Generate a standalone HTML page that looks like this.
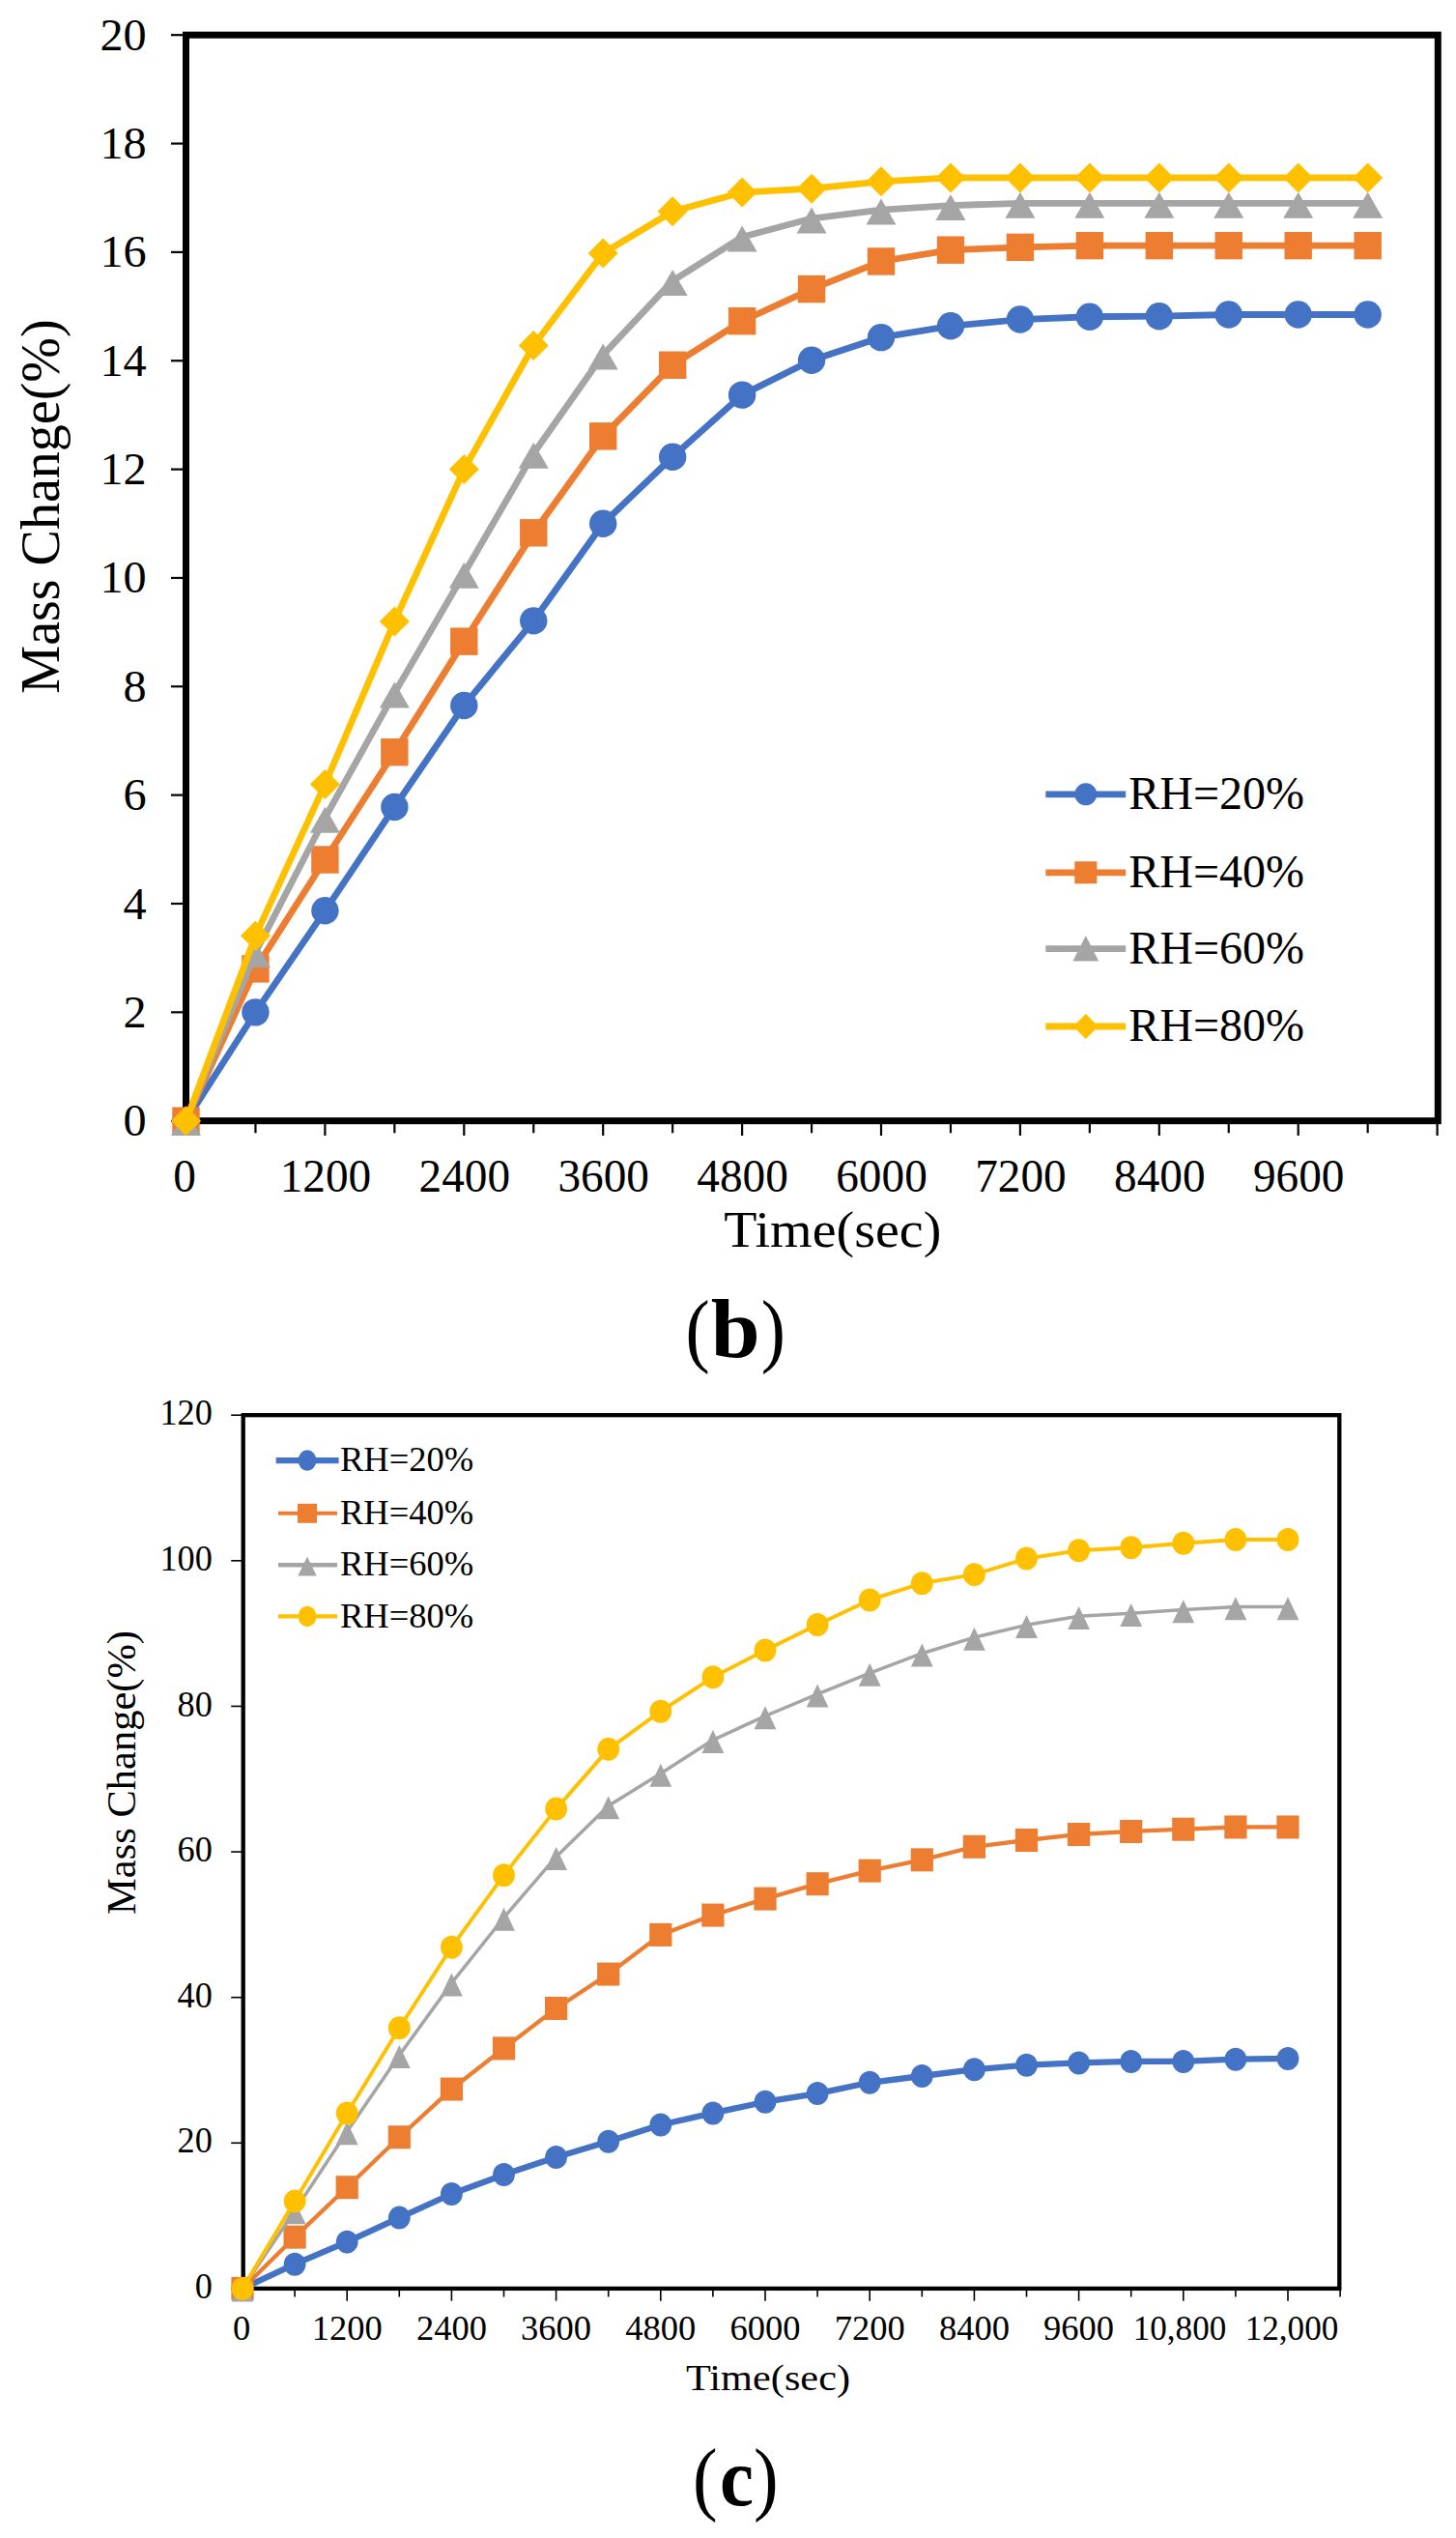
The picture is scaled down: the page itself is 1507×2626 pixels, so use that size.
<!DOCTYPE html>
<html><head><meta charset="utf-8"><title>Mass change vs time</title>
<style>html,body{margin:0;padding:0;background:#fff}svg{display:block}</style>
</head><body>
<svg width="1507" height="2626" viewBox="0 0 1507 2626">
<rect width="1507" height="2626" fill="#fff"/>
<g font-family="'Liberation Serif', serif" fill="#000">
<line x1="177.00" x2="192.50" y1="1159.70" y2="1159.70" stroke="#000" stroke-width="2.2"/>
<text transform="translate(151.70 1175.20) scale(1.015 1)" font-size="47.5" text-anchor="end" >0</text>
<line x1="177.00" x2="192.50" y1="1047.35" y2="1047.35" stroke="#000" stroke-width="2.2"/>
<text transform="translate(151.70 1062.85) scale(1.015 1)" font-size="47.5" text-anchor="end" >2</text>
<line x1="177.00" x2="192.50" y1="935.00" y2="935.00" stroke="#000" stroke-width="2.2"/>
<text transform="translate(151.70 950.50) scale(1.015 1)" font-size="47.5" text-anchor="end" >4</text>
<line x1="177.00" x2="192.50" y1="822.65" y2="822.65" stroke="#000" stroke-width="2.2"/>
<text transform="translate(151.70 838.15) scale(1.015 1)" font-size="47.5" text-anchor="end" >6</text>
<line x1="177.00" x2="192.50" y1="710.30" y2="710.30" stroke="#000" stroke-width="2.2"/>
<text transform="translate(151.70 725.80) scale(1.015 1)" font-size="47.5" text-anchor="end" >8</text>
<line x1="177.00" x2="192.50" y1="597.95" y2="597.95" stroke="#000" stroke-width="2.2"/>
<text transform="translate(151.70 613.45) scale(1.015 1)" font-size="47.5" text-anchor="end" >10</text>
<line x1="177.00" x2="192.50" y1="485.60" y2="485.60" stroke="#000" stroke-width="2.2"/>
<text transform="translate(151.70 501.10) scale(1.015 1)" font-size="47.5" text-anchor="end" >12</text>
<line x1="177.00" x2="192.50" y1="373.25" y2="373.25" stroke="#000" stroke-width="2.2"/>
<text transform="translate(151.70 388.75) scale(1.015 1)" font-size="47.5" text-anchor="end" >14</text>
<line x1="177.00" x2="192.50" y1="260.90" y2="260.90" stroke="#000" stroke-width="2.2"/>
<text transform="translate(151.70 276.40) scale(1.015 1)" font-size="47.5" text-anchor="end" >16</text>
<line x1="177.00" x2="192.50" y1="148.55" y2="148.55" stroke="#000" stroke-width="2.2"/>
<text transform="translate(151.70 164.05) scale(1.015 1)" font-size="47.5" text-anchor="end" >18</text>
<line x1="177.00" x2="192.50" y1="36.20" y2="36.20" stroke="#000" stroke-width="2.2"/>
<text transform="translate(151.70 51.70) scale(1.015 1)" font-size="47.5" text-anchor="end" >20</text>
<line x1="192.50" x2="192.50" y1="1159.70" y2="1175.00" stroke="#000" stroke-width="2.2"/>
<text transform="translate(191.00 1232.50) scale(0.995 1)" font-size="47.5" text-anchor="middle" >0</text>
<line x1="264.45" x2="264.45" y1="1159.70" y2="1172.30" stroke="#000" stroke-width="2.2"/>
<line x1="336.40" x2="336.40" y1="1159.70" y2="1175.00" stroke="#000" stroke-width="2.2"/>
<text transform="translate(336.90 1232.50) scale(0.995 1)" font-size="47.5" text-anchor="middle" >1200</text>
<line x1="408.35" x2="408.35" y1="1159.70" y2="1172.30" stroke="#000" stroke-width="2.2"/>
<line x1="480.30" x2="480.30" y1="1159.70" y2="1175.00" stroke="#000" stroke-width="2.2"/>
<text transform="translate(480.80 1232.50) scale(0.995 1)" font-size="47.5" text-anchor="middle" >2400</text>
<line x1="552.25" x2="552.25" y1="1159.70" y2="1172.30" stroke="#000" stroke-width="2.2"/>
<line x1="624.20" x2="624.20" y1="1159.70" y2="1175.00" stroke="#000" stroke-width="2.2"/>
<text transform="translate(624.70 1232.50) scale(0.995 1)" font-size="47.5" text-anchor="middle" >3600</text>
<line x1="696.15" x2="696.15" y1="1159.70" y2="1172.30" stroke="#000" stroke-width="2.2"/>
<line x1="768.10" x2="768.10" y1="1159.70" y2="1175.00" stroke="#000" stroke-width="2.2"/>
<text transform="translate(768.60 1232.50) scale(0.995 1)" font-size="47.5" text-anchor="middle" >4800</text>
<line x1="840.05" x2="840.05" y1="1159.70" y2="1172.30" stroke="#000" stroke-width="2.2"/>
<line x1="912.00" x2="912.00" y1="1159.70" y2="1175.00" stroke="#000" stroke-width="2.2"/>
<text transform="translate(912.50 1232.50) scale(0.995 1)" font-size="47.5" text-anchor="middle" >6000</text>
<line x1="983.95" x2="983.95" y1="1159.70" y2="1172.30" stroke="#000" stroke-width="2.2"/>
<line x1="1055.90" x2="1055.90" y1="1159.70" y2="1175.00" stroke="#000" stroke-width="2.2"/>
<text transform="translate(1056.40 1232.50) scale(0.995 1)" font-size="47.5" text-anchor="middle" >7200</text>
<line x1="1127.85" x2="1127.85" y1="1159.70" y2="1172.30" stroke="#000" stroke-width="2.2"/>
<line x1="1199.80" x2="1199.80" y1="1159.70" y2="1175.00" stroke="#000" stroke-width="2.2"/>
<text transform="translate(1200.30 1232.50) scale(0.995 1)" font-size="47.5" text-anchor="middle" >8400</text>
<line x1="1271.75" x2="1271.75" y1="1159.70" y2="1172.30" stroke="#000" stroke-width="2.2"/>
<line x1="1343.70" x2="1343.70" y1="1159.70" y2="1175.00" stroke="#000" stroke-width="2.2"/>
<text transform="translate(1344.20 1232.50) scale(0.995 1)" font-size="47.5" text-anchor="middle" >9600</text>
<line x1="1415.65" x2="1415.65" y1="1159.70" y2="1172.30" stroke="#000" stroke-width="2.2"/>
<line x1="1487.60" x2="1487.60" y1="1159.70" y2="1175.00" stroke="#000" stroke-width="2.2"/>
<rect x="192.50" y="36.20" width="1295.80" height="1123.50" fill="none" stroke="#000" stroke-width="7.0"/>
<polyline points="192.50,1159.70 264.45,1047.35 336.40,942.30 408.35,835.01 480.30,729.96 552.25,642.33 624.20,541.78 696.15,472.68 768.10,408.64 840.05,372.69 912.00,349.09 983.95,337.30 1055.90,330.56 1127.85,327.75 1199.80,327.19 1271.75,325.50 1343.70,325.50 1415.65,325.50" fill="none" stroke="#4472C4" stroke-width="6.8" stroke-linejoin="round" stroke-linecap="round"/>
<ellipse cx="192.50" cy="1159.70" rx="14.20" ry="14.20" fill="#4472C4"/>
<ellipse cx="264.45" cy="1047.35" rx="14.20" ry="14.20" fill="#4472C4"/>
<ellipse cx="336.40" cy="942.30" rx="14.20" ry="14.20" fill="#4472C4"/>
<ellipse cx="408.35" cy="835.01" rx="14.20" ry="14.20" fill="#4472C4"/>
<ellipse cx="480.30" cy="729.96" rx="14.20" ry="14.20" fill="#4472C4"/>
<ellipse cx="552.25" cy="642.33" rx="14.20" ry="14.20" fill="#4472C4"/>
<ellipse cx="624.20" cy="541.78" rx="14.20" ry="14.20" fill="#4472C4"/>
<ellipse cx="696.15" cy="472.68" rx="14.20" ry="14.20" fill="#4472C4"/>
<ellipse cx="768.10" cy="408.64" rx="14.20" ry="14.20" fill="#4472C4"/>
<ellipse cx="840.05" cy="372.69" rx="14.20" ry="14.20" fill="#4472C4"/>
<ellipse cx="912.00" cy="349.09" rx="14.20" ry="14.20" fill="#4472C4"/>
<ellipse cx="983.95" cy="337.30" rx="14.20" ry="14.20" fill="#4472C4"/>
<ellipse cx="1055.90" cy="330.56" rx="14.20" ry="14.20" fill="#4472C4"/>
<ellipse cx="1127.85" cy="327.75" rx="14.20" ry="14.20" fill="#4472C4"/>
<ellipse cx="1199.80" cy="327.19" rx="14.20" ry="14.20" fill="#4472C4"/>
<ellipse cx="1271.75" cy="325.50" rx="14.20" ry="14.20" fill="#4472C4"/>
<ellipse cx="1343.70" cy="325.50" rx="14.20" ry="14.20" fill="#4472C4"/>
<ellipse cx="1415.65" cy="325.50" rx="14.20" ry="14.20" fill="#4472C4"/>
<polyline points="192.50,1159.70 264.45,1002.41 336.40,889.50 408.35,778.27 480.30,663.67 552.25,551.32 624.20,451.33 696.15,377.74 768.10,332.24 840.05,299.10 912.00,270.45 983.95,258.65 1055.90,255.84 1127.85,254.16 1199.80,254.16 1271.75,254.16 1343.70,254.16 1415.65,254.16" fill="none" stroke="#ED7D31" stroke-width="6.8" stroke-linejoin="round" stroke-linecap="round"/>
<rect x="178.30" y="1145.50" width="28.40" height="28.40" fill="#ED7D31"/>
<rect x="250.25" y="988.21" width="28.40" height="28.40" fill="#ED7D31"/>
<rect x="322.20" y="875.30" width="28.40" height="28.40" fill="#ED7D31"/>
<rect x="394.15" y="764.07" width="28.40" height="28.40" fill="#ED7D31"/>
<rect x="466.10" y="649.47" width="28.40" height="28.40" fill="#ED7D31"/>
<rect x="538.05" y="537.12" width="28.40" height="28.40" fill="#ED7D31"/>
<rect x="610.00" y="437.13" width="28.40" height="28.40" fill="#ED7D31"/>
<rect x="681.95" y="363.54" width="28.40" height="28.40" fill="#ED7D31"/>
<rect x="753.90" y="318.04" width="28.40" height="28.40" fill="#ED7D31"/>
<rect x="825.85" y="284.90" width="28.40" height="28.40" fill="#ED7D31"/>
<rect x="897.80" y="256.25" width="28.40" height="28.40" fill="#ED7D31"/>
<rect x="969.75" y="244.45" width="28.40" height="28.40" fill="#ED7D31"/>
<rect x="1041.70" y="241.64" width="28.40" height="28.40" fill="#ED7D31"/>
<rect x="1113.65" y="239.96" width="28.40" height="28.40" fill="#ED7D31"/>
<rect x="1185.60" y="239.96" width="28.40" height="28.40" fill="#ED7D31"/>
<rect x="1257.55" y="239.96" width="28.40" height="28.40" fill="#ED7D31"/>
<rect x="1329.50" y="239.96" width="28.40" height="28.40" fill="#ED7D31"/>
<rect x="1401.45" y="239.96" width="28.40" height="28.40" fill="#ED7D31"/>
<polyline points="192.50,1159.70 264.45,985.56 336.40,846.24 408.35,717.04 480.30,593.46 552.25,469.31 624.20,367.07 696.15,290.67 768.10,245.17 840.05,226.07 912.00,217.08 983.95,212.59 1055.90,210.34 1127.85,210.34 1199.80,210.34 1271.75,210.34 1343.70,210.34 1415.65,210.34" fill="none" stroke="#A5A5A5" stroke-width="6.8" stroke-linejoin="round" stroke-linecap="round"/>
<polygon points="192.50,1148.09 208.00,1175.09 177.00,1175.09" fill="#A5A5A5"/>
<polygon points="264.45,973.95 279.95,1000.95 248.95,1000.95" fill="#A5A5A5"/>
<polygon points="336.40,834.63 351.90,861.63 320.90,861.63" fill="#A5A5A5"/>
<polygon points="408.35,705.43 423.85,732.43 392.85,732.43" fill="#A5A5A5"/>
<polygon points="480.30,581.85 495.80,608.85 464.80,608.85" fill="#A5A5A5"/>
<polygon points="552.25,457.70 567.75,484.70 536.75,484.70" fill="#A5A5A5"/>
<polygon points="624.20,355.46 639.70,382.46 608.70,382.46" fill="#A5A5A5"/>
<polygon points="696.15,279.06 711.65,306.06 680.65,306.06" fill="#A5A5A5"/>
<polygon points="768.10,233.56 783.60,260.56 752.60,260.56" fill="#A5A5A5"/>
<polygon points="840.05,214.46 855.55,241.46 824.55,241.46" fill="#A5A5A5"/>
<polygon points="912.00,205.47 927.50,232.47 896.50,232.47" fill="#A5A5A5"/>
<polygon points="983.95,200.98 999.45,227.98 968.45,227.98" fill="#A5A5A5"/>
<polygon points="1055.90,198.73 1071.40,225.73 1040.40,225.73" fill="#A5A5A5"/>
<polygon points="1127.85,198.73 1143.35,225.73 1112.35,225.73" fill="#A5A5A5"/>
<polygon points="1199.80,198.73 1215.30,225.73 1184.30,225.73" fill="#A5A5A5"/>
<polygon points="1271.75,198.73 1287.25,225.73 1256.25,225.73" fill="#A5A5A5"/>
<polygon points="1343.70,198.73 1359.20,225.73 1328.20,225.73" fill="#A5A5A5"/>
<polygon points="1415.65,198.73 1431.15,225.73 1400.15,225.73" fill="#A5A5A5"/>
<polyline points="192.50,1159.70 264.45,968.14 336.40,811.42 408.35,642.89 480.30,485.60 552.25,357.52 624.20,262.02 696.15,218.77 768.10,199.11 840.05,195.18 912.00,187.87 983.95,183.94 1055.90,183.94 1127.85,183.94 1199.80,183.94 1271.75,183.94 1343.70,183.94 1415.65,183.94" fill="none" stroke="#FFC000" stroke-width="6.8" stroke-linejoin="round" stroke-linecap="round"/>
<polygon points="192.50,1144.20 208.00,1159.70 192.50,1175.20 177.00,1159.70" fill="#FFC000"/>
<polygon points="264.45,952.64 279.95,968.14 264.45,983.64 248.95,968.14" fill="#FFC000"/>
<polygon points="336.40,795.92 351.90,811.42 336.40,826.92 320.90,811.42" fill="#FFC000"/>
<polygon points="408.35,627.39 423.85,642.89 408.35,658.39 392.85,642.89" fill="#FFC000"/>
<polygon points="480.30,470.10 495.80,485.60 480.30,501.10 464.80,485.60" fill="#FFC000"/>
<polygon points="552.25,342.02 567.75,357.52 552.25,373.02 536.75,357.52" fill="#FFC000"/>
<polygon points="624.20,246.52 639.70,262.02 624.20,277.52 608.70,262.02" fill="#FFC000"/>
<polygon points="696.15,203.27 711.65,218.77 696.15,234.27 680.65,218.77" fill="#FFC000"/>
<polygon points="768.10,183.61 783.60,199.11 768.10,214.61 752.60,199.11" fill="#FFC000"/>
<polygon points="840.05,179.68 855.55,195.18 840.05,210.68 824.55,195.18" fill="#FFC000"/>
<polygon points="912.00,172.37 927.50,187.87 912.00,203.37 896.50,187.87" fill="#FFC000"/>
<polygon points="983.95,168.44 999.45,183.94 983.95,199.44 968.45,183.94" fill="#FFC000"/>
<polygon points="1055.90,168.44 1071.40,183.94 1055.90,199.44 1040.40,183.94" fill="#FFC000"/>
<polygon points="1127.85,168.44 1143.35,183.94 1127.85,199.44 1112.35,183.94" fill="#FFC000"/>
<polygon points="1199.80,168.44 1215.30,183.94 1199.80,199.44 1184.30,183.94" fill="#FFC000"/>
<polygon points="1271.75,168.44 1287.25,183.94 1271.75,199.44 1256.25,183.94" fill="#FFC000"/>
<polygon points="1343.70,168.44 1359.20,183.94 1343.70,199.44 1328.20,183.94" fill="#FFC000"/>
<polygon points="1415.65,168.44 1431.15,183.94 1415.65,199.44 1400.15,183.94" fill="#FFC000"/>
<line x1="1082.3" x2="1165.2" y1="821.8" y2="821.8" stroke="#4472C4" stroke-width="6.8"/>
<ellipse cx="1123.80" cy="821.80" rx="11.50" ry="11.50" fill="#4472C4"/>
<text transform="translate(1168.20 837.10)" font-size="48" text-anchor="start" >RH=20%</text>
<line x1="1082.3" x2="1165.2" y1="902.8" y2="902.8" stroke="#ED7D31" stroke-width="6.8"/>
<rect x="1112.30" y="891.30" width="23.00" height="23.00" fill="#ED7D31"/>
<text transform="translate(1168.20 918.10)" font-size="48" text-anchor="start" >RH=40%</text>
<line x1="1082.3" x2="1165.2" y1="981.6" y2="981.6" stroke="#A5A5A5" stroke-width="6.8"/>
<polygon points="1123.8,968.10 1137.20,994.50 1110.40,994.50" fill="#A5A5A5"/>
<text transform="translate(1168.20 996.90)" font-size="48" text-anchor="start" >RH=60%</text>
<line x1="1082.3" x2="1165.2" y1="1062.0" y2="1062.0" stroke="#FFC000" stroke-width="6.8"/>
<polygon points="1123.80,1049.00 1136.80,1062.00 1123.80,1075.00 1110.80,1062.00" fill="#FFC000"/>
<text transform="translate(1168.20 1077.30)" font-size="48" text-anchor="start" >RH=80%</text>
<text transform="translate(861.80 1289.70) scale(1.077 1)" font-size="52" text-anchor="middle" >Time(sec)</text>
<text transform="translate(61.30 524.00) rotate(-90)" font-size="56" text-anchor="middle" >Mass Change(%)</text>
<text transform="translate(722.20 1404.30) scale(0.9 1)" font-size="84" text-anchor="middle" >(</text>
<text transform="translate(761.20 1403.75) scale(1.065 1)" font-size="86" text-anchor="middle" font-weight="bold">b</text>
<text transform="translate(800.30 1404.30) scale(0.9 1)" font-size="84" text-anchor="middle" >)</text>
</g>
<g font-family="'Liberation Serif', serif" fill="#000">
<line x1="239.20" x2="251.70" y1="2367.90" y2="2367.90" stroke="#000" stroke-width="1.6"/>
<text transform="translate(219.80 2378.10) scale(0.95 1)" font-size="38.2" text-anchor="end" >0</text>
<line x1="239.20" x2="251.70" y1="2217.28" y2="2217.28" stroke="#000" stroke-width="1.6"/>
<text transform="translate(219.80 2227.48) scale(0.95 1)" font-size="38.2" text-anchor="end" >20</text>
<line x1="239.20" x2="251.70" y1="2066.67" y2="2066.67" stroke="#000" stroke-width="1.6"/>
<text transform="translate(219.80 2076.87) scale(0.95 1)" font-size="38.2" text-anchor="end" >40</text>
<line x1="239.20" x2="251.70" y1="1916.05" y2="1916.05" stroke="#000" stroke-width="1.6"/>
<text transform="translate(219.80 1926.25) scale(0.95 1)" font-size="38.2" text-anchor="end" >60</text>
<line x1="239.20" x2="251.70" y1="1765.43" y2="1765.43" stroke="#000" stroke-width="1.6"/>
<text transform="translate(219.80 1775.63) scale(0.95 1)" font-size="38.2" text-anchor="end" >80</text>
<line x1="239.20" x2="251.70" y1="1614.82" y2="1614.82" stroke="#000" stroke-width="1.6"/>
<text transform="translate(219.80 1625.02) scale(0.95 1)" font-size="38.2" text-anchor="end" >100</text>
<line x1="239.20" x2="251.70" y1="1464.20" y2="1464.20" stroke="#000" stroke-width="1.6"/>
<text transform="translate(219.80 1474.40) scale(0.95 1)" font-size="38.2" text-anchor="end" >120</text>
<line x1="251.00" x2="251.00" y1="2367.90" y2="2380.70" stroke="#000" stroke-width="1.6"/>
<text transform="translate(250.20 2421.40)" font-size="36.5" text-anchor="middle" >0</text>
<line x1="305.10" x2="305.10" y1="2367.90" y2="2376.50" stroke="#000" stroke-width="1.6"/>
<line x1="359.20" x2="359.20" y1="2367.90" y2="2380.70" stroke="#000" stroke-width="1.6"/>
<text transform="translate(359.20 2421.40)" font-size="36.5" text-anchor="middle" >1200</text>
<line x1="413.30" x2="413.30" y1="2367.90" y2="2376.50" stroke="#000" stroke-width="1.6"/>
<line x1="467.40" x2="467.40" y1="2367.90" y2="2380.70" stroke="#000" stroke-width="1.6"/>
<text transform="translate(467.40 2421.40)" font-size="36.5" text-anchor="middle" >2400</text>
<line x1="521.50" x2="521.50" y1="2367.90" y2="2376.50" stroke="#000" stroke-width="1.6"/>
<line x1="575.60" x2="575.60" y1="2367.90" y2="2380.70" stroke="#000" stroke-width="1.6"/>
<text transform="translate(575.60 2421.40)" font-size="36.5" text-anchor="middle" >3600</text>
<line x1="629.70" x2="629.70" y1="2367.90" y2="2376.50" stroke="#000" stroke-width="1.6"/>
<line x1="683.80" x2="683.80" y1="2367.90" y2="2380.70" stroke="#000" stroke-width="1.6"/>
<text transform="translate(683.80 2421.40)" font-size="36.5" text-anchor="middle" >4800</text>
<line x1="737.90" x2="737.90" y1="2367.90" y2="2376.50" stroke="#000" stroke-width="1.6"/>
<line x1="792.00" x2="792.00" y1="2367.90" y2="2380.70" stroke="#000" stroke-width="1.6"/>
<text transform="translate(792.00 2421.40)" font-size="36.5" text-anchor="middle" >6000</text>
<line x1="846.10" x2="846.10" y1="2367.90" y2="2376.50" stroke="#000" stroke-width="1.6"/>
<line x1="900.20" x2="900.20" y1="2367.90" y2="2380.70" stroke="#000" stroke-width="1.6"/>
<text transform="translate(900.20 2421.40)" font-size="36.5" text-anchor="middle" >7200</text>
<line x1="954.30" x2="954.30" y1="2367.90" y2="2376.50" stroke="#000" stroke-width="1.6"/>
<line x1="1008.40" x2="1008.40" y1="2367.90" y2="2380.70" stroke="#000" stroke-width="1.6"/>
<text transform="translate(1008.40 2421.40)" font-size="36.5" text-anchor="middle" >8400</text>
<line x1="1062.50" x2="1062.50" y1="2367.90" y2="2376.50" stroke="#000" stroke-width="1.6"/>
<line x1="1116.60" x2="1116.60" y1="2367.90" y2="2380.70" stroke="#000" stroke-width="1.6"/>
<text transform="translate(1116.60 2421.40)" font-size="36.5" text-anchor="middle" >9600</text>
<line x1="1170.70" x2="1170.70" y1="2367.90" y2="2376.50" stroke="#000" stroke-width="1.6"/>
<line x1="1224.80" x2="1224.80" y1="2367.90" y2="2380.70" stroke="#000" stroke-width="1.6"/>
<text transform="translate(1221.00 2421.40) scale(0.975 1)" font-size="36" text-anchor="middle" >10,800</text>
<line x1="1278.90" x2="1278.90" y1="2367.90" y2="2376.50" stroke="#000" stroke-width="1.6"/>
<line x1="1333.00" x2="1333.00" y1="2367.90" y2="2380.70" stroke="#000" stroke-width="1.6"/>
<text transform="translate(1337.00 2421.40) scale(0.975 1)" font-size="36" text-anchor="middle" >12,000</text>
<line x1="1387.10" x2="1387.10" y1="2367.90" y2="2376.50" stroke="#000" stroke-width="1.6"/>
<rect x="251.70" y="1464.20" width="1134.60" height="903.70" fill="none" stroke="#000" stroke-width="4.3"/>
<polyline points="251.00,2367.90 305.10,2342.67 359.20,2319.63 413.30,2294.62 467.40,2270.00 521.50,2250.04 575.60,2231.97 629.70,2215.78 683.80,2198.46 737.90,2186.41 792.00,2174.73 846.10,2166.07 900.20,2154.78 954.30,2148.00 1008.40,2141.22 1062.50,2136.70 1116.60,2134.44 1170.70,2132.94 1224.80,2132.94 1278.90,2130.68 1333.00,2129.93" fill="none" stroke="#4472C4" stroke-width="6.3" stroke-linejoin="round" stroke-linecap="round"/>
<ellipse cx="251.00" cy="2367.90" rx="11.40" ry="12.00" fill="#4472C4"/>
<ellipse cx="305.10" cy="2342.67" rx="11.40" ry="12.00" fill="#4472C4"/>
<ellipse cx="359.20" cy="2319.63" rx="11.40" ry="12.00" fill="#4472C4"/>
<ellipse cx="413.30" cy="2294.62" rx="11.40" ry="12.00" fill="#4472C4"/>
<ellipse cx="467.40" cy="2270.00" rx="11.40" ry="12.00" fill="#4472C4"/>
<ellipse cx="521.50" cy="2250.04" rx="11.40" ry="12.00" fill="#4472C4"/>
<ellipse cx="575.60" cy="2231.97" rx="11.40" ry="12.00" fill="#4472C4"/>
<ellipse cx="629.70" cy="2215.78" rx="11.40" ry="12.00" fill="#4472C4"/>
<ellipse cx="683.80" cy="2198.46" rx="11.40" ry="12.00" fill="#4472C4"/>
<ellipse cx="737.90" cy="2186.41" rx="11.40" ry="12.00" fill="#4472C4"/>
<ellipse cx="792.00" cy="2174.73" rx="11.40" ry="12.00" fill="#4472C4"/>
<ellipse cx="846.10" cy="2166.07" rx="11.40" ry="12.00" fill="#4472C4"/>
<ellipse cx="900.20" cy="2154.78" rx="11.40" ry="12.00" fill="#4472C4"/>
<ellipse cx="954.30" cy="2148.00" rx="11.40" ry="12.00" fill="#4472C4"/>
<ellipse cx="1008.40" cy="2141.22" rx="11.40" ry="12.00" fill="#4472C4"/>
<ellipse cx="1062.50" cy="2136.70" rx="11.40" ry="12.00" fill="#4472C4"/>
<ellipse cx="1116.60" cy="2134.44" rx="11.40" ry="12.00" fill="#4472C4"/>
<ellipse cx="1170.70" cy="2132.94" rx="11.40" ry="12.00" fill="#4472C4"/>
<ellipse cx="1224.80" cy="2132.94" rx="11.40" ry="12.00" fill="#4472C4"/>
<ellipse cx="1278.90" cy="2130.68" rx="11.40" ry="12.00" fill="#4472C4"/>
<ellipse cx="1333.00" cy="2129.93" rx="11.40" ry="12.00" fill="#4472C4"/>
<polyline points="251.00,2367.90 305.10,2314.66 359.20,2263.22 413.30,2211.26 467.40,2161.56 521.50,2119.38 575.60,2077.96 629.70,2042.57 683.80,2001.90 737.90,1981.57 792.00,1964.62 846.10,1949.19 900.20,1935.63 954.30,1924.33 1008.40,1910.78 1062.50,1904.00 1116.60,1897.98 1170.70,1894.96 1224.80,1892.70 1278.90,1890.45 1333.00,1890.45" fill="none" stroke="#ED7D31" stroke-width="4.3" stroke-linejoin="round" stroke-linecap="round"/>
<rect x="239.40" y="2355.90" width="23.20" height="24.00" fill="#ED7D31"/>
<rect x="293.50" y="2302.66" width="23.20" height="24.00" fill="#ED7D31"/>
<rect x="347.60" y="2251.22" width="23.20" height="24.00" fill="#ED7D31"/>
<rect x="401.70" y="2199.26" width="23.20" height="24.00" fill="#ED7D31"/>
<rect x="455.80" y="2149.56" width="23.20" height="24.00" fill="#ED7D31"/>
<rect x="509.90" y="2107.38" width="23.20" height="24.00" fill="#ED7D31"/>
<rect x="564.00" y="2065.96" width="23.20" height="24.00" fill="#ED7D31"/>
<rect x="618.10" y="2030.57" width="23.20" height="24.00" fill="#ED7D31"/>
<rect x="672.20" y="1989.90" width="23.20" height="24.00" fill="#ED7D31"/>
<rect x="726.30" y="1969.57" width="23.20" height="24.00" fill="#ED7D31"/>
<rect x="780.40" y="1952.62" width="23.20" height="24.00" fill="#ED7D31"/>
<rect x="834.50" y="1937.19" width="23.20" height="24.00" fill="#ED7D31"/>
<rect x="888.60" y="1923.63" width="23.20" height="24.00" fill="#ED7D31"/>
<rect x="942.70" y="1912.33" width="23.20" height="24.00" fill="#ED7D31"/>
<rect x="996.80" y="1898.78" width="23.20" height="24.00" fill="#ED7D31"/>
<rect x="1050.90" y="1892.00" width="23.20" height="24.00" fill="#ED7D31"/>
<rect x="1105.00" y="1885.98" width="23.20" height="24.00" fill="#ED7D31"/>
<rect x="1159.10" y="1882.96" width="23.20" height="24.00" fill="#ED7D31"/>
<rect x="1213.20" y="1880.70" width="23.20" height="24.00" fill="#ED7D31"/>
<rect x="1267.30" y="1878.45" width="23.20" height="24.00" fill="#ED7D31"/>
<rect x="1321.40" y="1878.45" width="23.20" height="24.00" fill="#ED7D31"/>
<polyline points="251.00,2367.90 305.10,2287.58 359.20,2205.50 413.30,2126.42 467.40,2051.87 521.50,1984.09 575.60,1921.21 629.70,1868.49 683.80,1834.98 737.90,1800.34 792.00,1775.49 846.10,1752.89 900.20,1731.06 954.30,1710.72 1008.40,1694.15 1062.50,1681.35 1116.60,1672.31 1170.70,1669.30 1224.80,1665.54 1278.90,1662.52 1333.00,1662.52" fill="none" stroke="#A5A5A5" stroke-width="3.5" stroke-linejoin="round" stroke-linecap="round"/>
<polygon points="251.00,2357.58 262.40,2381.58 239.60,2381.58" fill="#A5A5A5"/>
<polygon points="305.10,2277.26 316.50,2301.26 293.70,2301.26" fill="#A5A5A5"/>
<polygon points="359.20,2195.18 370.60,2219.18 347.80,2219.18" fill="#A5A5A5"/>
<polygon points="413.30,2116.10 424.70,2140.10 401.90,2140.10" fill="#A5A5A5"/>
<polygon points="467.40,2041.55 478.80,2065.55 456.00,2065.55" fill="#A5A5A5"/>
<polygon points="521.50,1973.77 532.90,1997.77 510.10,1997.77" fill="#A5A5A5"/>
<polygon points="575.60,1910.89 587.00,1934.89 564.20,1934.89" fill="#A5A5A5"/>
<polygon points="629.70,1858.17 641.10,1882.17 618.30,1882.17" fill="#A5A5A5"/>
<polygon points="683.80,1824.66 695.20,1848.66 672.40,1848.66" fill="#A5A5A5"/>
<polygon points="737.90,1790.02 749.30,1814.02 726.50,1814.02" fill="#A5A5A5"/>
<polygon points="792.00,1765.17 803.40,1789.17 780.60,1789.17" fill="#A5A5A5"/>
<polygon points="846.10,1742.57 857.50,1766.57 834.70,1766.57" fill="#A5A5A5"/>
<polygon points="900.20,1720.74 911.60,1744.74 888.80,1744.74" fill="#A5A5A5"/>
<polygon points="954.30,1700.40 965.70,1724.40 942.90,1724.40" fill="#A5A5A5"/>
<polygon points="1008.40,1683.83 1019.80,1707.83 997.00,1707.83" fill="#A5A5A5"/>
<polygon points="1062.50,1671.03 1073.90,1695.03 1051.10,1695.03" fill="#A5A5A5"/>
<polygon points="1116.60,1661.99 1128.00,1685.99 1105.20,1685.99" fill="#A5A5A5"/>
<polygon points="1170.70,1658.98 1182.10,1682.98 1159.30,1682.98" fill="#A5A5A5"/>
<polygon points="1224.80,1655.22 1236.20,1679.22 1213.40,1679.22" fill="#A5A5A5"/>
<polygon points="1278.90,1652.20 1290.30,1676.20 1267.50,1676.20" fill="#A5A5A5"/>
<polygon points="1333.00,1652.20 1344.40,1676.20 1321.60,1676.20" fill="#A5A5A5"/>
<polyline points="251.00,2367.90 305.10,2277.53 359.20,2186.41 413.30,2098.30 467.40,2014.70 521.50,1940.15 575.60,1871.62 629.70,1809.87 683.80,1770.70 737.90,1735.31 792.00,1707.45 846.10,1681.09 900.20,1655.48 954.30,1638.16 1008.40,1629.13 1062.50,1612.56 1116.60,1604.27 1170.70,1601.26 1224.80,1596.74 1278.90,1592.98 1333.00,1592.98" fill="none" stroke="#FFC000" stroke-width="3.9" stroke-linejoin="round" stroke-linecap="round"/>
<ellipse cx="251.00" cy="2367.90" rx="11.40" ry="12.00" fill="#FFC000"/>
<ellipse cx="305.10" cy="2277.53" rx="11.40" ry="12.00" fill="#FFC000"/>
<ellipse cx="359.20" cy="2186.41" rx="11.40" ry="12.00" fill="#FFC000"/>
<ellipse cx="413.30" cy="2098.30" rx="11.40" ry="12.00" fill="#FFC000"/>
<ellipse cx="467.40" cy="2014.70" rx="11.40" ry="12.00" fill="#FFC000"/>
<ellipse cx="521.50" cy="1940.15" rx="11.40" ry="12.00" fill="#FFC000"/>
<ellipse cx="575.60" cy="1871.62" rx="11.40" ry="12.00" fill="#FFC000"/>
<ellipse cx="629.70" cy="1809.87" rx="11.40" ry="12.00" fill="#FFC000"/>
<ellipse cx="683.80" cy="1770.70" rx="11.40" ry="12.00" fill="#FFC000"/>
<ellipse cx="737.90" cy="1735.31" rx="11.40" ry="12.00" fill="#FFC000"/>
<ellipse cx="792.00" cy="1707.45" rx="11.40" ry="12.00" fill="#FFC000"/>
<ellipse cx="846.10" cy="1681.09" rx="11.40" ry="12.00" fill="#FFC000"/>
<ellipse cx="900.20" cy="1655.48" rx="11.40" ry="12.00" fill="#FFC000"/>
<ellipse cx="954.30" cy="1638.16" rx="11.40" ry="12.00" fill="#FFC000"/>
<ellipse cx="1008.40" cy="1629.13" rx="11.40" ry="12.00" fill="#FFC000"/>
<ellipse cx="1062.50" cy="1612.56" rx="11.40" ry="12.00" fill="#FFC000"/>
<ellipse cx="1116.60" cy="1604.27" rx="11.40" ry="12.00" fill="#FFC000"/>
<ellipse cx="1170.70" cy="1601.26" rx="11.40" ry="12.00" fill="#FFC000"/>
<ellipse cx="1224.80" cy="1596.74" rx="11.40" ry="12.00" fill="#FFC000"/>
<ellipse cx="1278.90" cy="1592.98" rx="11.40" ry="12.00" fill="#FFC000"/>
<ellipse cx="1333.00" cy="1592.98" rx="11.40" ry="12.00" fill="#FFC000"/>
<line x1="285.7" x2="350.6" y1="1511.1" y2="1511.1" stroke="#4472C4" stroke-width="6.1"/>
<ellipse cx="318.00" cy="1511.10" rx="9.40" ry="10.75" fill="#4472C4"/>
<text transform="translate(352.00 1522.30)" font-size="36.5" text-anchor="start" >RH=20%</text>
<line x1="288.0" x2="349.0" y1="1565.8" y2="1565.8" stroke="#ED7D31" stroke-width="4.1"/>
<rect x="308.00" y="1555.80" width="20.00" height="20.00" fill="#ED7D31"/>
<text transform="translate(352.00 1577.00)" font-size="36.5" text-anchor="start" >RH=40%</text>
<line x1="288.0" x2="349.0" y1="1619.2" y2="1619.2" stroke="#A5A5A5" stroke-width="4.5"/>
<polygon points="318.00,1610.60 327.75,1630.60 308.25,1630.60" fill="#A5A5A5"/>
<text transform="translate(352.00 1630.40)" font-size="36.5" text-anchor="start" >RH=60%</text>
<line x1="288.0" x2="349.0" y1="1672.4" y2="1672.4" stroke="#FFC000" stroke-width="4.3"/>
<ellipse cx="318.00" cy="1672.40" rx="9.40" ry="10.75" fill="#FFC000"/>
<text transform="translate(352.00 1683.60)" font-size="36.5" text-anchor="start" >RH=80%</text>
<text transform="translate(795.00 2473.40) scale(1.085 1)" font-size="39" text-anchor="middle" >Time(sec)</text>
<text transform="translate(140.10 1834.00) rotate(-90)" font-size="42.5" text-anchor="middle" >Mass Change(%)</text>
<text transform="translate(729.80 2592.00) scale(0.915 1)" font-size="84" text-anchor="middle" >(</text>
<text transform="translate(762.50 2591.50) scale(0.94 1)" font-size="84" text-anchor="middle" font-weight="bold">c</text>
<text transform="translate(792.90 2592.00) scale(0.915 1)" font-size="84" text-anchor="middle" >)</text>
</g>
</svg>
</body></html>
